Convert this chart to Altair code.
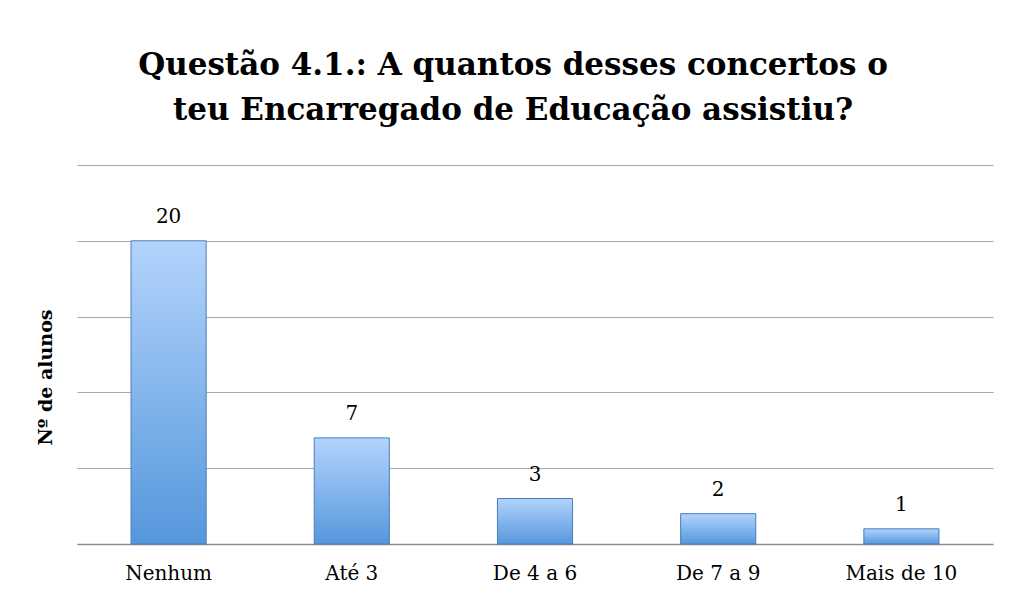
import altair as alt
import pandas as pd

categories = ["Nenhum", "Até 3", "De 4 a 6", "De 7 a 9", "Mais de 10"]
values = [20, 7, 3, 2, 1]
title_lines = ["Questão 4.1.: A quantos desses concertos o",
               "teu Encarregado de Educação assistiu?"]
y_title = "Nº de alunos"

df = pd.DataFrame({"cat": categories, "val": values})

SERIF = "DejaVu Serif"

x = alt.X("cat:N", sort=categories, title=None,
          scale=alt.Scale(paddingInner=0.59, paddingOuter=0.295),
          axis=alt.Axis(labelAngle=0, labelFont=SERIF, labelFontSize=20,
                        labelColor="#000", labelPadding=19, ticks=False,
                        domainColor="#8c8c8c", domainWidth=1.5))
y = alt.Y("val:Q", title=y_title,
          scale=alt.Scale(domain=[0, 25], nice=False),
          axis=alt.Axis(values=[0, 5, 10, 15, 20, 25], labels=False, ticks=False,
                        domain=False, grid=True, gridColor="#a6a6a6", gridWidth=1,
                        titleFont=SERIF, titleFontSize=19, titleFontWeight="bold",
                        titleColor="#000", titleAngle=270, titleX=-32, titleY=212,
                        titleAlign="center", titleBaseline="middle"))

base = alt.Chart(df)

bars = base.mark_bar(
    color=alt.Gradient(gradient="linear", x1=0, x2=0, y1=0, y2=1,
                       stops=[alt.GradientStop(offset=0, color="#b3d4fc"),
                              alt.GradientStop(offset=1, color="#5597dc")]),
    stroke="#4b7cb8", strokeWidth=1
).encode(x=x, y=y)

labels = base.mark_text(font=SERIF, fontSize=20, color="#000", baseline="alphabetic",
                        dy=-18).encode(x=x, y=y, text="val:Q")

chart = alt.layer(bars, labels).properties(
    width=916, height=379,
    title=alt.Title(title_lines, font=SERIF, fontSize=31, fontWeight="bold",
                    color="#000", anchor="middle", dx=-22, offset=38, lineHeight=45),
    autosize=alt.AutoSizeParams(type="none"),
    padding={"left": 69, "top": 157, "right": 10, "bottom": 44},
    background="white"
).configure_view(stroke=None)

chart.save("out.html", embed_options={"renderer": "svg", "actions": False})
